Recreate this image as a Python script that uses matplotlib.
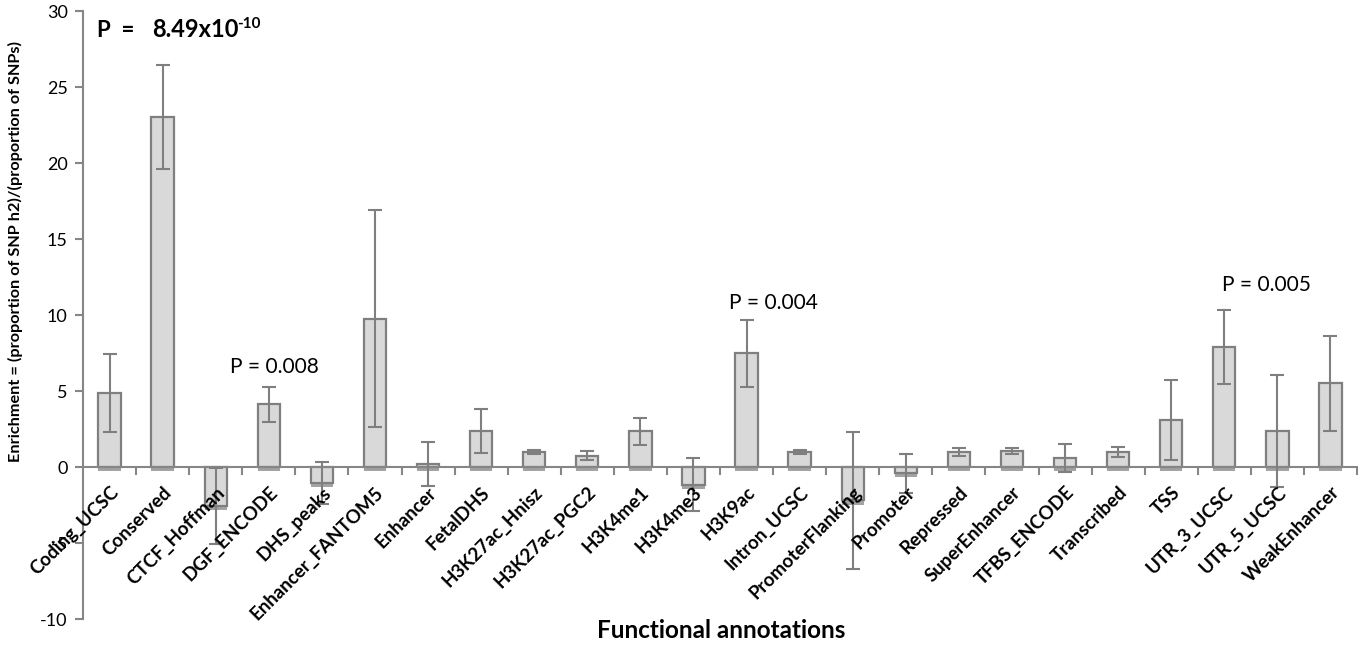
import matplotlib
matplotlib.use("Agg")
import matplotlib.pyplot as plt
import matplotlib.patheffects as pe
from matplotlib.ticker import FixedLocator, MultipleLocator
import numpy as np

plt.rcParams['font.family'] = ['Lato', 'DejaVu Sans']
plt.rcParams['axes.unicode_minus'] = False

# Enrichment per functional annotation, with standard errors
categories = ["Coding_UCSC", "Conserved", "CTCF_Hoffman", "DGF_ENCODE", "DHS_peaks",
              "Enhancer_FANTOM5", "Enhancer", "FetalDHS", "H3K27ac_Hnisz", "H3K27ac_PGC2",
              "H3K4me1", "H3K4me3", "H3K9ac", "Intron_UCSC", "PromoterFlanking",
              "Promoter", "Repressed", "SuperEnhancer", "TFBS_ENCODE", "Transcribed",
              "TSS", "UTR_3_UCSC", "UTR_5_UCSC", "WeakEnhancer"]
enrichment = [4.85, 23.0, -2.55, 4.12, -1.05, 9.75, 0.2, 2.35, 1.0, 0.75,
              2.35, -1.17, 7.47, 1.0, -2.2, -0.4, 0.97, 1.08, 0.57, 0.98,
              3.08, 7.9, 2.35, 5.5]
enrichment_se = [2.58, 3.42, 2.5, 1.15, 1.4, 7.15, 1.47, 1.45, 0.13, 0.32,
                 0.87, 1.75, 2.2, 0.12, 4.5, 1.28, 0.25, 0.2, 0.92, 0.31,
                 2.65, 2.45, 3.68, 3.1]

# p-value annotations: (x position in category units, y value, text)
p_notes_x = [3.1, 12.5, 21.8]
p_notes_y = [6.6, 10.8, 12.0]
p_notes_text = ["P = 0.008", "P = 0.004", "P = 0.005"]

W, H, DPI = 1363, 645, 100
fig = plt.figure(figsize=(W / DPI, H / DPI), dpi=DPI)
ax = fig.add_axes([83 / W, 26 / H, (1357 - 83) / W, (619 - 11) / H])

axis_grey = "#868686"
x = np.arange(len(categories))

bars = ax.bar(x, enrichment, width=0.42, color="#d9d9d9", edgecolor="#7f7f7f",
              linewidth=1.6, zorder=2)
for b in bars:
    b.set_path_effects([pe.SimplePatchShadow(offset=(0, -3.0), shadow_rgbFace="#a3a3a3",
                                             alpha=1.0), pe.Normal()])

ax.errorbar(x, enrichment, yerr=enrichment_se, fmt="none", ecolor="#7f7f7f",
            elinewidth=1.5, capsize=5, capthick=1.5, zorder=4)

ax.set_xlim(-0.5, len(categories) - 0.5)
ax.set_ylim(-10, 30)

for s in ("top", "right"):
    ax.spines[s].set_visible(False)
ax.spines["left"].set_color(axis_grey)
ax.spines["left"].set_linewidth(1.5)
ax.spines["bottom"].set_position(("data", 0))
ax.spines["bottom"].set_color(axis_grey)
ax.spines["bottom"].set_linewidth(1.5)
ax.spines["bottom"].set_zorder(3)

ax.yaxis.set_major_locator(MultipleLocator(5))
ax.tick_params(axis="y", direction="out", length=6, width=1.5, color=axis_grey,
               labelsize=13, pad=5)

ax.xaxis.set_major_locator(FixedLocator(x))
ax.xaxis.set_minor_locator(FixedLocator(np.arange(0.5, len(categories), 1.0)))
ax.tick_params(axis="x", which="major", length=0, pad=12)
ax.tick_params(axis="x", which="minor", direction="out", length=6, width=1.5,
               color=axis_grey)
ax.set_xticklabels(categories, rotation=45, ha="right", va="top",
                   rotation_mode="anchor", fontsize=13.5, fontweight="bold")
ax.xaxis.set_zorder(5)

for px, py, t in zip(p_notes_x, p_notes_y, p_notes_text):
    ax.text(px, py, t, ha="center", va="center", fontsize=15)

# axis titles
fig.text(721 / W, 1 - 630 / H, "Functional annotations", ha="center", va="center",
         fontsize=17.5, fontweight="bold")
fig.text(15 / W, 1 - 252 / H, "Enrichment = (proportion of SNP h2)/(proportion of SNPs)",
         rotation=90, ha="center", va="center", fontsize=11.7, fontweight="bold")

# overall p-value
t1 = fig.text(97 / W, 1 - 37 / H, "P  =", ha="left", va="baseline",
              fontsize=16, fontweight="bold")
t2 = fig.text(152 / W, 1 - 37 / H, "8.49x10", ha="left", va="baseline",
              fontsize=17, fontweight="bold")
fig.canvas.draw()
r = fig.canvas.get_renderer()
bb = t2.get_window_extent(r)
fig.text((bb.x1 - 1) / W, 1 - 28 / H, "-10", ha="left", va="baseline",
         fontsize=11, fontweight="bold")

fig.savefig("out.png", dpi=DPI)
